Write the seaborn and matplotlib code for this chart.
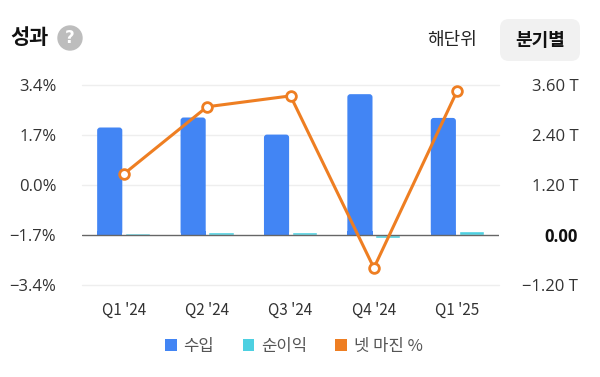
import numpy as np
import pandas as pd
import matplotlib
matplotlib.use("Agg")
import matplotlib.pyplot as plt
import seaborn as sns
from matplotlib.patches import Patch, FancyBboxPatch, Circle

# Data
quarters = ["Q1 '24", "Q2 '24", "Q3 '24", "Q4 '24", "Q1 '25"]
revenue = [2.58, 2.82, 2.41, 3.38, 2.81]        # 수입, trillions
net_income = [0.05, 0.07, 0.07, -0.08, 0.10]   # 순이익, trillions
net_margin = [0.37, 2.66, 3.03, -2.82, 3.21]   # 넷 마진 %

left_ticks = [-3.4, -1.7, 0.0, 1.7, 3.4]
right_ticks = [-1.2, 0.0, 1.2, 2.4, 3.6]

blue = "#4285F4"
cyan = "#4DD0E1"
orange = "#EE7E22"

sns.set_style("white")
plt.rcParams['font.family'] = ['Noto Sans CJK KR', 'DejaVu Sans']
num_font = ['Open Sans', 'DejaVu Sans']

df = pd.DataFrame({
    "quarter": quarters * 2,
    "value": revenue + net_income,
    "series": ["수입"] * 5 + ["순이익"] * 5,
})


def fmt_num(v, fmt):
    s = format(abs(v), fmt)
    return ("\u2212" + s) if v < 0 else s


fig = plt.figure(figsize=(6, 3.77), dpi=100)
ax = fig.add_axes([82 / 600, 1 - 285 / 377, 417 / 600, 200 / 377])

# bars on main axes (value scale, ticks shown on the right)
sns.barplot(data=df, x="quarter", y="value", hue="series",
            palette=[blue, cyan], width=0.67, gap=0.1,
            saturation=1, legend=False, ax=ax)
ax.set_ylim(-1.2, 3.6)
ax.set_xlim(-0.5, 4.5)
ax.set_xlabel("")
ax.set_ylabel("")

# gridlines + dark baseline
for v in right_ticks:
    if v == 0:
        ax.axhline(v, color="#666666", lw=1.0, zorder=3)
    else:
        ax.axhline(v, color="#eeeeee", lw=1.0, zorder=0, clip_on=False)
for s in ax.spines.values():
    s.set_visible(False)

# rounded top corners on the tall bars
for p in list(ax.patches):
    h = p.get_height()
    if h < 0.3:
        continue
    x, y, w = p.get_x(), p.get_y(), p.get_width()
    fc = p.get_facecolor()
    p.remove()
    ax.add_patch(FancyBboxPatch((x, y), w, h,
                                boxstyle="round,pad=0,rounding_size=0.036",
                                mutation_aspect=2.0,
                                fc=fc, ec="none", zorder=2))
    # square off the bottom corners
    ax.add_patch(plt.Rectangle((x, y), w, 0.1, fc=fc, ec="none", zorder=2))

# net margin line on twin axes (ticks on the left)
ax2 = ax.twinx()
sns.lineplot(x=list(range(5)), y=net_margin, color=orange, lw=2.2, sort=False,
             marker="o", markersize=7, markerfacecolor="white",
             markeredgecolor=orange, markeredgewidth=2, ax=ax2, zorder=5)
ax2.set_ylim(-3.4, 3.4)
ax2.set_ylabel("")
ax2.set_yticks(left_ticks)
ax2.set_yticklabels([fmt_num(v, ".1f") + "%" for v in left_ticks])
ax2.yaxis.tick_left()
ax2.tick_params(axis="y", length=0, pad=18.5, labelsize=12, labelcolor="#333333")
for lbl in ax2.get_yticklabels():
    lbl.set_family(num_font)
for s in ax2.spines.values():
    s.set_visible(False)

# right-hand value axis (after twinx, which moves ticks)
ax.yaxis.tick_right()
ax.set_yticks(right_ticks)
ax.set_yticklabels([fmt_num(v, ".2f") + (" T" if v != 0 else "") for v in right_ticks])
ax.tick_params(axis="y", length=0, pad=57, labelsize=12, labelcolor="#333333")
ax.tick_params(axis="x", length=0, pad=12, labelsize=11, labelcolor="#333333")
for lbl, v in zip(ax.get_yticklabels(), right_ticks):
    lbl.set_horizontalalignment("right")
    lbl.set_family(num_font)
    if v == 0:
        lbl.set_fontweight("bold")
        lbl.set_color("#111111")

# header
fig.text(10 / 600, 1 - 38 / 377, "성과", fontsize=15, fontweight="bold",
         color="#111111", va="center", ha="left")
circ = Circle((70, 377 - 38), 12, transform=None, color="#bdbdbd")
fig.patches.append(circ)
fig.text(70 / 600, 1 - 38 / 377, "?", fontsize=12, fontweight="bold",
         color="white", va="center", ha="center", family="DejaVu Sans")
fig.text(452 / 600, 1 - 40 / 377, "해단위", fontsize=13, color="#222222",
         va="center", ha="center")
box = FancyBboxPatch((500 / 600, 1 - 61 / 377), 80 / 600, 42 / 377,
                     boxstyle="round,pad=0,rounding_size=0.015",
                     mutation_aspect=600 / 377,
                     transform=fig.transFigure, fc="#f1f1f1", ec="none")
fig.patches.append(box)
fig.text(540 / 600, 1 - 40 / 377, "분기별", fontsize=13, fontweight="bold",
         color="#111111", va="center", ha="center")

# legend
handles = [Patch(fc=blue, ec="none", label="수입"),
           Patch(fc=cyan, ec="none", label="순이익"),
           Patch(fc=orange, ec="none", label="넷 마진 %")]
leg = fig.legend(handles=handles, loc="center", bbox_to_anchor=(294 / 600, 1 - 346 / 377),
                 ncol=3, frameon=False, fontsize=12, handlelength=0.7,
                 handleheight=0.7, handletextpad=0.4, columnspacing=1.7)
for t in leg.get_texts():
    t.set_color("#555555")

fig.savefig("out.png", dpi=100)
